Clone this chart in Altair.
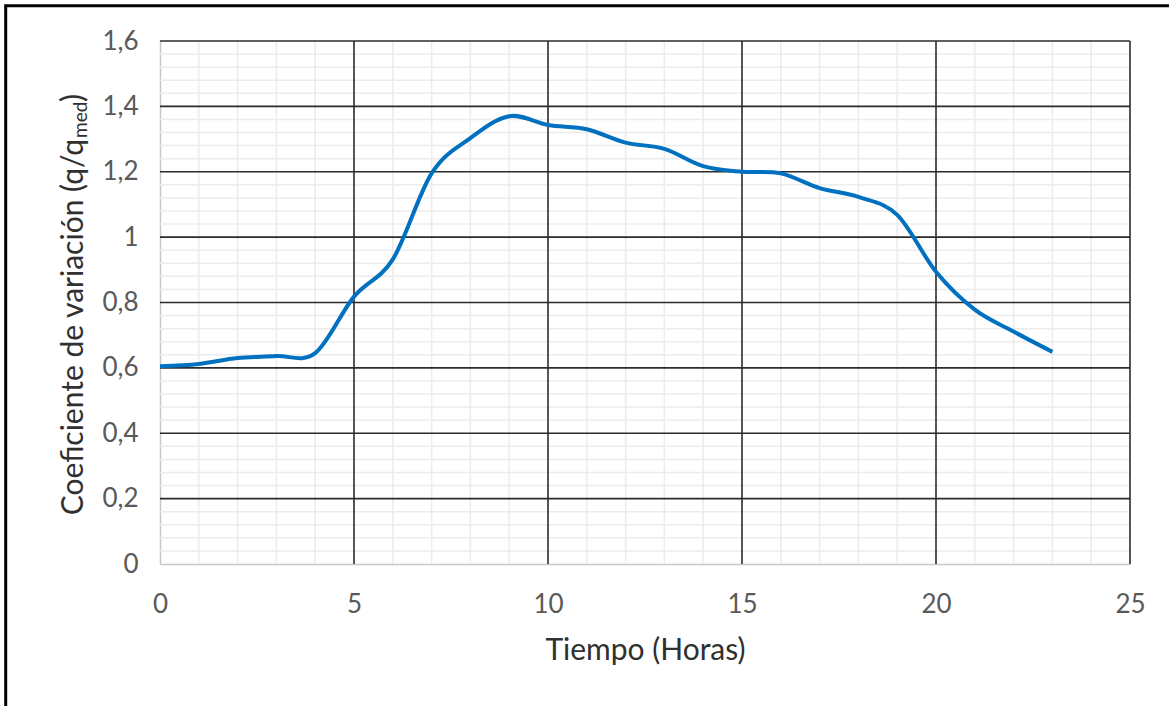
import altair as alt
import pandas as pd

# Data
hours = list(range(24))
coef = [0.605, 0.612, 0.630, 0.636, 0.645, 0.818, 0.932, 1.195, 1.303, 1.370,
        1.343, 1.330, 1.289, 1.270, 1.217, 1.200, 1.195, 1.150, 1.123, 1.068,
        0.894, 0.778, 0.711, 0.649]

x_major = [5, 10, 15, 20, 25]
y_major = [0.2, 0.4, 0.6, 0.8, 1.0, 1.2, 1.4, 1.6]
x_minor = [h for h in range(1, 25) if h % 5 != 0]
y_minor = [round(i * 0.04, 2) for i in range(1, 40) if i % 5 != 0]
x_ticks = [0, 5, 10, 15, 20, 25]
y_ticks = [0, 0.2, 0.4, 0.6, 0.8, 1.0, 1.2, 1.4, 1.6]

W, H = 970, 523
FONT = "Lato"

df = pd.DataFrame({"hora": hours, "coef": coef})
xs = alt.Scale(domain=[0, 25], nice=False)
ys = alt.Scale(domain=[0, 1.6], nice=False)

x_axis = alt.Axis(values=x_ticks, title="Tiempo (Horas)", grid=False,
                  ticks=False, domainColor="#c8c8c8", domainWidth=1.5,
                  labelFont=FONT, labelFontSize=26, labelColor="#595959",
                  labelPadding=27, labelFlush=False, titleFont=FONT,
                  titleFontSize=30, titleFontWeight="normal",
                  titleColor="#303030", titlePadding=18)
y_axis = alt.Axis(values=y_ticks, title=None, grid=False, ticks=False,
                  domainColor="#c8c8c8", domainWidth=1.5,
                  labelFont=FONT, labelFontSize=26, labelColor="#595959",
                  labelPadding=22,
                  labelExpr="replace(format(datum.value, '.1~f'), '.', ',')")

minor_x = alt.Chart(pd.DataFrame({"v": x_minor})).mark_rule(
    color="#ececec", strokeWidth=1.5).encode(x=alt.X("v:Q", scale=xs, axis=x_axis))
minor_y = alt.Chart(pd.DataFrame({"v": y_minor})).mark_rule(
    color="#ececec", strokeWidth=1.5).encode(y=alt.Y("v:Q", scale=ys, axis=y_axis))
major_x = alt.Chart(pd.DataFrame({"v": x_major})).mark_rule(
    color="#2b2b2b", strokeWidth=1.6).encode(x=alt.X("v:Q", scale=xs, axis=x_axis))
major_y = alt.Chart(pd.DataFrame({"v": y_major})).mark_rule(
    color="#2b2b2b", strokeWidth=1.6).encode(y=alt.Y("v:Q", scale=ys, axis=y_axis))

line = alt.Chart(df).mark_line(
    color="#0070C0", strokeWidth=4, interpolate="cardinal"
).encode(
    x=alt.X("hora:Q", scale=xs, axis=x_axis),
    y=alt.Y("coef:Q", scale=ys, axis=y_axis),
)

one = pd.DataFrame({"a": [0]})
title_main = alt.Chart(one).mark_text(
    text="Coeficiente de variación (q/q", angle=270, align="right",
    baseline="alphabetic", font=FONT, fontSize=30, color="#303030"
).encode(x=alt.value(-77), y=alt.value(98))
title_sub = alt.Chart(one).mark_text(
    text="med", angle=270, align="left",
    baseline="alphabetic", font=FONT, fontSize=19, color="#303030"
).encode(x=alt.value(-73), y=alt.value(97))
title_end = alt.Chart(one).mark_text(
    text=")", angle=270, align="left",
    baseline="alphabetic", font=FONT, fontSize=30, color="#303030"
).encode(x=alt.value(-77), y=alt.value(61))

frame_left = alt.Chart(one).mark_rule(color="black", strokeWidth=3).encode(
    x=alt.value(-154.3), y=alt.value(-35.3), y2=alt.value(670))
frame_top = alt.Chart(one).mark_rule(color="black", strokeWidth=3).encode(
    x=alt.value(-155.8), x2=alt.value(1015), y=alt.value(-35.3))

chart = alt.layer(
    minor_x, minor_y, major_x, major_y, line,
    title_main, title_sub, title_end, frame_left, frame_top
).properties(
    width=W, height=H,
    autosize=alt.AutoSizeParams(type="none"),
    padding={"left": 160, "top": 41, "right": 39, "bottom": 142},
    background="white",
).configure_view(stroke=None)

chart.save("out.html", embed_options={"renderer": "svg", "actions": False})
